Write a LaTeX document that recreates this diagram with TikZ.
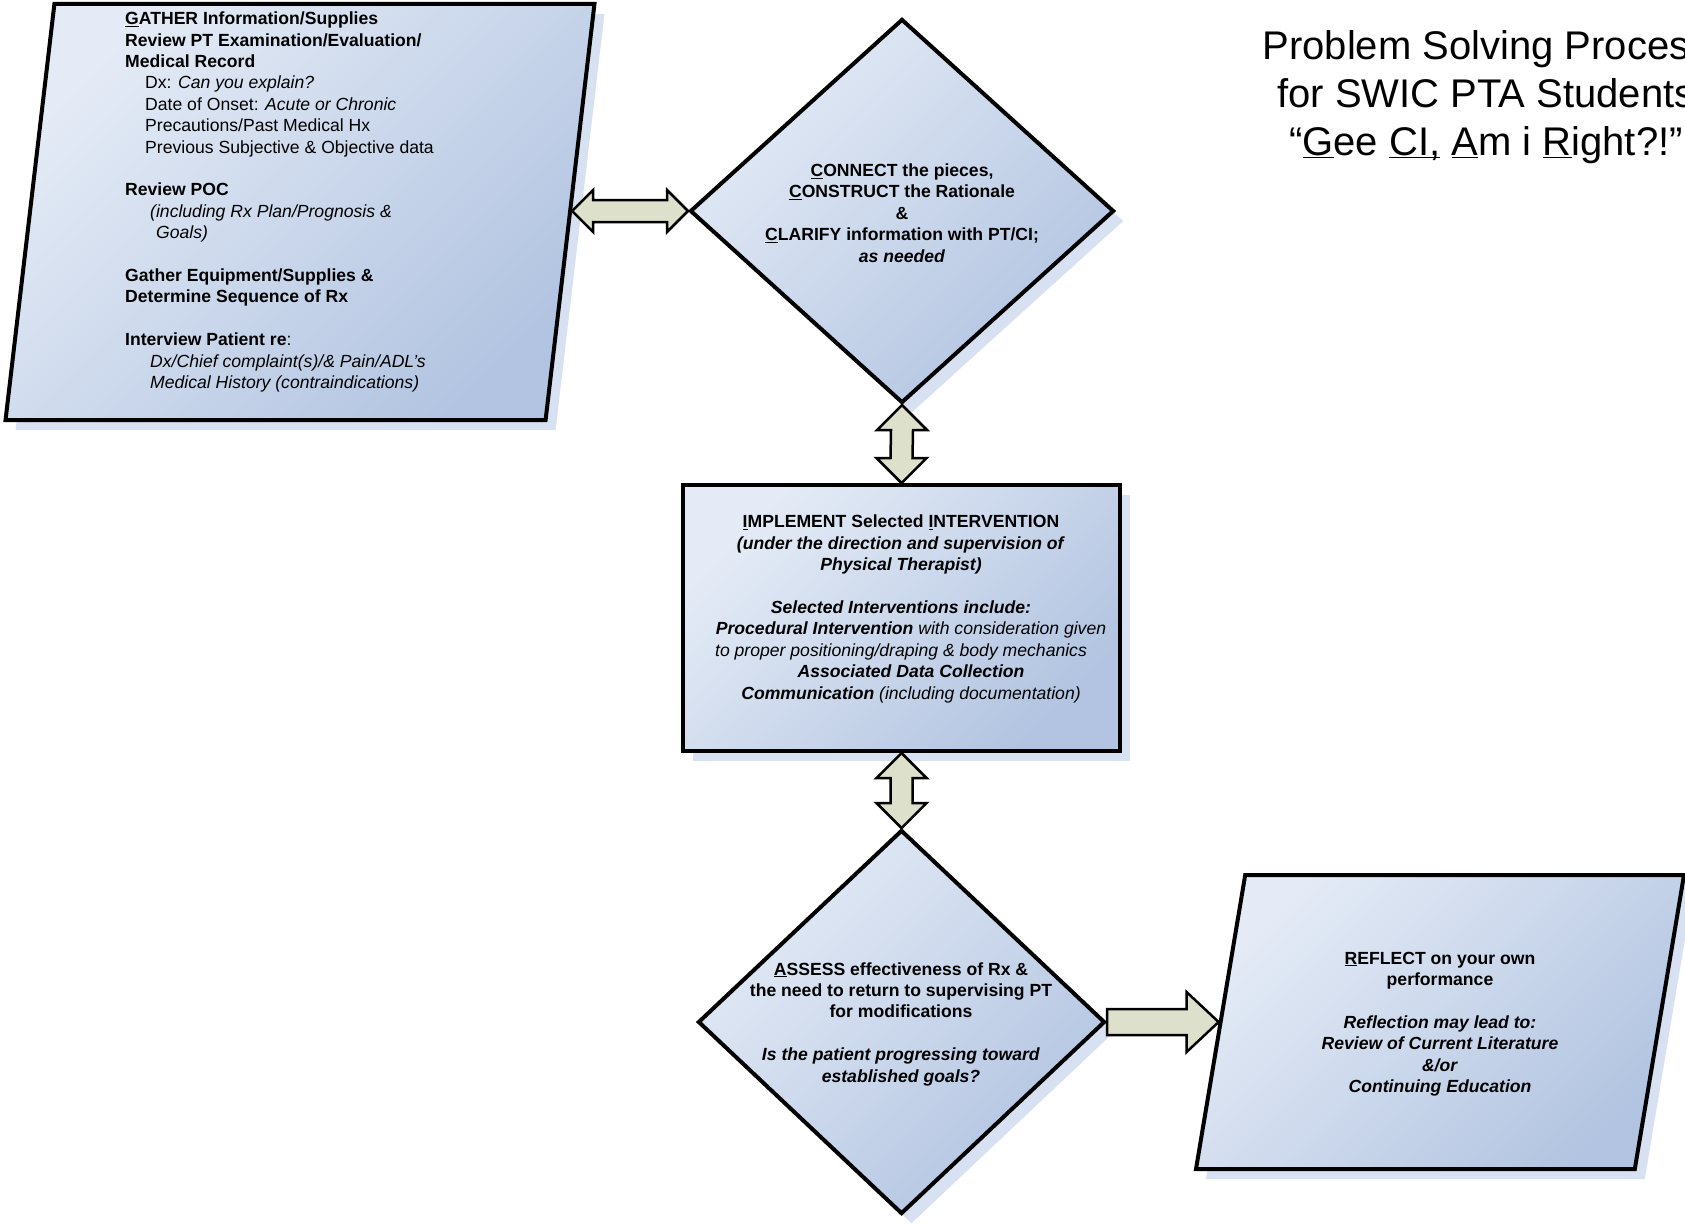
\documentclass[tikz,border=0pt]{standalone}
\usepackage{fontspec}
\setmainfont{Liberation Sans}
\usepackage{tikz}
\usetikzlibrary{positioning, shapes.geometric, calc, shadows}
\definecolor{boxLight}{HTML}{E4EBF6}
\definecolor{boxDark}{HTML}{B2C4E1}
\definecolor{boxShadow}{HTML}{D8E1F1}
\definecolor{arrowFill}{HTML}{DDE1CC}

\begin{document}
\begin{tikzpicture}[
        x=1pt, y=-1pt,
        font=\fontsize{17.6}{21.4}\selectfont,
        shapebase/.style={draw=black, line width=4pt, inner sep=0pt,
                   top color=boxLight, bottom color=boxDark, shading angle=45,
                   drop shadow={shadow xshift=10pt, shadow yshift=-10pt,
                                fill=boxShadow, opacity=1}},
        flowbox/.style={shapebase, rectangle},
        decision/.style={shapebase, diamond},
        datashape/.style={shapebase, trapezium},
        blockarrow/.style={draw=black, line width=2.5pt, fill=arrowFill,
                   line join=miter},
        txt/.style={inner sep=0pt, align=center},
      ]
      \useasboundingbox (0,0) rectangle (1685,1228);
      % shapes
      \node[datashape, trapezium left angle=83.3, trapezium right angle=96.7,
            inner xsep=245.6pt, inner ysep=208pt] (gather) at (300,212) {};
      \node[decision, minimum width=424pt, minimum height=384pt] (connect) at (902,211) {};
      \node[flowbox, minimum width=437pt, minimum height=266pt] (implement) at (901.5,618) {};
      \node[decision, minimum width=407pt, minimum height=384pt] (assess) at (901.5,1022) {};
      \node[datashape, trapezium left angle=80.5, trapezium right angle=99.5,
            inner xsep=194.8pt, inner ysep=147pt] (reflect) at (1440,1022) {};
      % texts
      \node[txt, align=left, anchor=west] (gathertxt) at (125,202) {%
        \textbf{\underline{G}ATHER Information/Supplies}\\
        \textbf{Review PT Examination/Evaluation/}\\
        \textbf{Medical Record}\\
        \hspace*{20pt}Dx: \textit{Can you explain?}\\
        \hspace*{20pt}Date of Onset: \textit{Acute or Chronic}\\
        \hspace*{20pt}Precautions/Past Medical Hx\\
        \hspace*{20pt}Previous Subjective \& Objective data\\[21.4pt]
        \textbf{Review POC}\\
        \hspace*{25pt}\textit{(including Rx Plan/Prognosis \&}\\
        \hspace*{31pt}\textit{Goals)}\\[21.4pt]
        \textbf{Gather Equipment/Supplies \&}\\
        \textbf{Determine Sequence of Rx}\\[21.4pt]
        \textbf{Interview Patient re}:\\
        \hspace*{25pt}\textit{Dx/Chief complaint(s)/\& Pain/ADL’s}\\
        \hspace*{25pt}\textit{Medical History (contraindications)}%
      };
      \node[txt] (connecttxt) at (902,213) {%
        \textbf{\underline{C}ONNECT the pieces,}\\
        \textbf{\underline{C}ONSTRUCT the Rationale}\\
        \textbf{\&}\\
        \textbf{\underline{C}LARIFY information with PT/CI;}\\
        \textbf{\textit{as needed}}%
      };
      \node[txt] (implementtxt) at (901,609) {%
        \textbf{\underline{I}MPLEMENT Selected \underline{I}NTERVENTION}\\
        \textbf{\textit{(under the direction and supervision of}}\\
        \textbf{\textit{Physical Therapist)}}\\[21.4pt]
        \textbf{\textit{Selected Interventions include:}}\\
        \hspace*{20pt}\textit{\textbf{Procedural Intervention} with consideration given}\\
        \textit{to proper positioning/draping \& body mechanics}\\
        \hspace*{20pt}\textbf{\textit{Associated Data Collection}}\\
        \hspace*{20pt}\textit{\textbf{Communication} (including documentation)}%
      };
      \node[txt] (assesstxt) at (901,1024) {%
        \textbf{\underline{A}SSESS effectiveness of Rx \&}\\
        \textbf{the need to return to supervising PT}\\
        \textbf{for modifications}\\[21.4pt]
        \textbf{\textit{Is the patient progressing toward}}\\
        \textbf{\textit{established goals?}}%
      };
      \node[txt] (reflecttxt) at (1440,1024) {%
        \textbf{\underline{R}EFLECT on your own}\\
        \textbf{performance}\\[21.4pt]
        \textbf{\textit{Reflection may lead to:}}\\
        \textbf{\textit{Review of Current Literature}}\\
        \textbf{\textit{\&/or}}\\
        \textbf{\textit{Continuing Education}}%
      };
      \node[txt, font=\fontsize{40}{48}\selectfont] (title) at (1486,97) {%
        Problem Solving Process\\
        for SWIC PTA Students\\
        “\underline{G}ee \underline{CI\smash{,}} \underline{A}m i \underline{R}ight?!”%
      };
      % block arrows
      \coordinate (gatherR) at (gather.east |- connect.west);
      \draw[blockarrow] (gatherR) -- ++(21,-21) -- ++(0,10)
        -- ($(connect.west)+(-21,-11)$) -- ++(0,-10) -- (connect.west)
        -- ++(-21,21) -- ++(0,-10) -- ($(gatherR)+(21,11)$) -- ++(0,10) -- cycle;
      \draw[blockarrow] (connect.south) -- ++(25,25) -- ++(-14,0)
        -- ($(implement.north)+(11,-25)$) -- ++(14,0) -- (implement.north)
        -- ++(-25,-25) -- ++(14,0) -- ($(connect.south)+(-11,25)$) -- ++(-14,0) -- cycle;
      \draw[blockarrow] (implement.south) -- ++(25,25) -- ++(-14,0)
        -- ($(assess.north)+(11,-25)$) -- ++(14,0) -- (assess.north)
        -- ++(-25,-25) -- ++(14,0) -- ($(implement.south)+(-11,25)$) -- ++(-14,0) -- cycle;
      \draw[blockarrow] ($(assess.east)+(0,-13)$) -- ($(reflect.west)+(-32,-13)$)
        -- ++(0,-17) -- (reflect.west) -- ++(-32,30) -- ++(0,-17)
        -- ($(assess.east)+(0,13)$) -- cycle;
    \end{tikzpicture}
\end{document}
